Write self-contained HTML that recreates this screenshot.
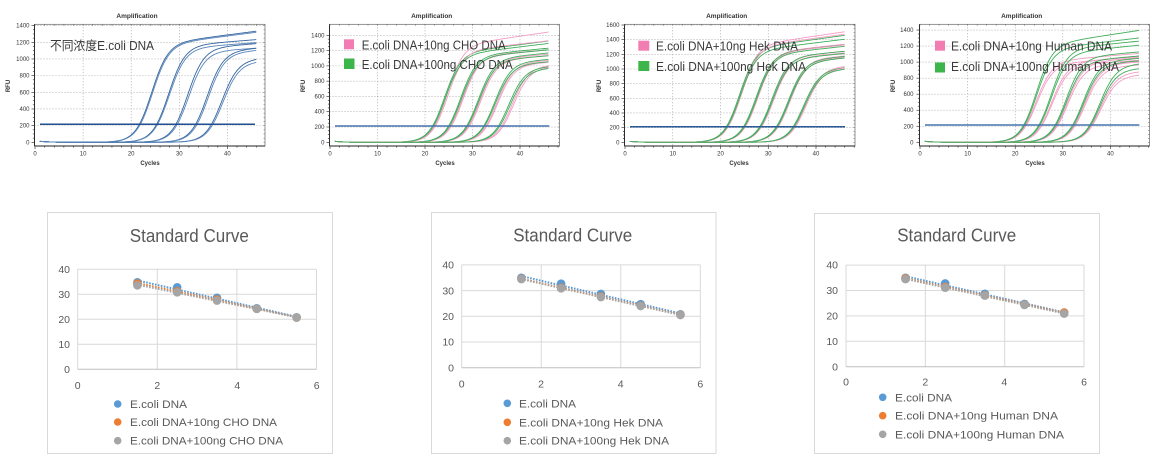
<!DOCTYPE html>
<html><head><meta charset="utf-8">
<style>
html,body{margin:0;padding:0;background:#fff;}
svg{display:block;font-family:"Liberation Sans","Noto Sans CJK SC",sans-serif;}
.t{font-size:6px;fill:#333;}
.tt{font-size:6.5px;font-weight:bold;fill:#333;}
.ax{font-size:6px;font-weight:bold;fill:#333;}
.lg{font-size:12.5px;fill:#3a3a3a;}
.st{font-size:18px;fill:#595959;}
.sk{font-size:10.5px;fill:#595959;}
.sl{font-size:11px;fill:#595959;}
</style></head><body>
<svg id="s" width="1165" height="469" viewBox="0 0 1165 469" xmlns="http://www.w3.org/2000/svg">
<rect width="1165" height="469" fill="#fff"/>
<g id="bg"></g>
<!-- Amplification plot 1 -->
<text class="tt" x="137" y="18" text-anchor="middle">Amplification</text>
<text class="ax" x="150" y="165" text-anchor="middle">Cycles</text>
<text class="ax" transform="translate(10,86) rotate(-90)" text-anchor="middle">RFU</text>
<g class="t" text-anchor="end">
<text x="29.5" y="144.3">0</text><text x="29.5" y="127.6">200</text><text x="29.5" y="111">400</text><text x="29.5" y="94.3">600</text><text x="29.5" y="77.6">800</text><text x="29.5" y="61">1000</text><text x="29.5" y="44.3">1200</text><text x="29.5" y="27.7">1400</text>
</g>
<g class="t" text-anchor="middle">
<text x="35" y="155.5">0</text><text x="83.1" y="155.5">10</text><text x="131.2" y="155.5">20</text><text x="179.3" y="155.5">30</text><text x="227.4" y="155.5">40</text>
</g>
<!-- plot 2 -->
<text class="tt" x="431.7" y="18" text-anchor="middle">Amplification</text>
<text class="ax" x="445" y="165" text-anchor="middle">Cycles</text>
<text class="ax" transform="translate(305,86) rotate(-90)" text-anchor="middle">RFU</text>
<g class="t" text-anchor="end">
<text x="324.5" y="144.3">0</text><text x="324.5" y="129">200</text><text x="324.5" y="113.7">400</text><text x="324.5" y="98.4">600</text><text x="324.5" y="83.2">800</text><text x="324.5" y="67.9">1000</text><text x="324.5" y="52.6">1200</text><text x="324.5" y="37.3">1400</text>
</g>
<g class="t" text-anchor="middle">
<text x="330" y="155.5">0</text><text x="377.5" y="155.5">10</text><text x="425" y="155.5">20</text><text x="472.5" y="155.5">30</text><text x="520" y="155.5">40</text>
</g>
<!-- plot 3 -->
<text class="tt" x="726.7" y="18" text-anchor="middle">Amplification</text>
<text class="ax" x="739" y="165" text-anchor="middle">Cycles</text>
<text class="ax" transform="translate(601,86) rotate(-90)" text-anchor="middle">RFU</text>
<g class="t" text-anchor="end">
<text x="619.5" y="144.3">0</text><text x="619.5" y="129.6">200</text><text x="619.5" y="115">400</text><text x="619.5" y="100.3">600</text><text x="619.5" y="85.7">800</text><text x="619.5" y="71">1000</text><text x="619.5" y="56.3">1200</text><text x="619.5" y="41.7">1400</text><text x="619.5" y="27">1600</text>
</g>
<g class="t" text-anchor="middle">
<text x="625" y="155.5">0</text><text x="672.8" y="155.5">10</text><text x="720.5" y="155.5">20</text><text x="768.3" y="155.5">30</text><text x="816" y="155.5">40</text>
</g>
<!-- plot 4 -->
<text class="tt" x="1021.7" y="18" text-anchor="middle">Amplification</text>
<text class="ax" x="1035" y="165" text-anchor="middle">Cycles</text>
<text class="ax" transform="translate(895,86) rotate(-90)" text-anchor="middle">RFU</text>
<g class="t" text-anchor="end">
<text x="913.5" y="144.3">0</text><text x="913.5" y="128.3">200</text><text x="913.5" y="112.2">400</text><text x="913.5" y="96.2">600</text><text x="913.5" y="80.1">800</text><text x="913.5" y="64.1">1000</text><text x="913.5" y="48.1">1200</text><text x="913.5" y="32">1400</text>
</g>
<g class="t" text-anchor="middle">
<text x="920" y="155.5">0</text><text x="967.6" y="155.5">10</text><text x="1015.2" y="155.5">20</text><text x="1062.8" y="155.5">30</text><text x="1110.4" y="155.5">40</text>
</g>

<!-- standard curve boxes -->
<rect x="47.5" y="212.5" width="285" height="241" fill="#fff" stroke="#d9d9d9"/>
<rect x="431.5" y="212.5" width="284.5" height="241" fill="#fff" stroke="#d9d9d9"/>
<rect x="814.5" y="213.5" width="285" height="240" fill="#fff" stroke="#d9d9d9"/>
<g id="fg"></g>

<!-- amp legends -->
<text class="lg" x="50" y="50" textLength="104" lengthAdjust="spacingAndGlyphs">不同浓度E.coli DNA</text>
<rect x="344" y="39.3" width="10" height="10" fill="#f27db3"/>
<rect x="344" y="58.5" width="10.5" height="10.5" fill="#3cb54a"/>
<text class="lg" x="361.7" y="49.5" textLength="144" lengthAdjust="spacingAndGlyphs">E.coli DNA+10ng CHO DNA</text>
<text class="lg" x="361.7" y="68.8" textLength="151" lengthAdjust="spacingAndGlyphs">E.coli DNA+100ng CHO DNA</text>
<rect x="638.3" y="40.7" width="11" height="10" fill="#f27db3"/>
<rect x="638.3" y="61" width="11" height="10" fill="#3cb54a"/>
<text class="lg" x="656" y="50.4" textLength="142" lengthAdjust="spacingAndGlyphs">E.coli DNA+10ng Hek DNA</text>
<text class="lg" x="656" y="71.2" textLength="150" lengthAdjust="spacingAndGlyphs">E.coli DNA+100ng Hek DNA</text>
<rect x="935" y="40.7" width="10" height="10" fill="#f27db3"/>
<rect x="935" y="62.5" width="10" height="10" fill="#3cb54a"/>
<text class="lg" x="951" y="50.4" textLength="161" lengthAdjust="spacingAndGlyphs">E.coli DNA+10ng Human DNA</text>
<text class="lg" x="951" y="70.8" textLength="168" lengthAdjust="spacingAndGlyphs">E.coli DNA+100ng Human DNA</text>

<!-- standard curve texts -->
<text class="st" x="189.3" y="242" text-anchor="middle" textLength="119" lengthAdjust="spacingAndGlyphs">Standard Curve</text>
<text class="st" x="572.7" y="241.5" text-anchor="middle" textLength="119" lengthAdjust="spacingAndGlyphs">Standard Curve</text>
<text class="st" x="956.7" y="241.5" text-anchor="middle" textLength="119" lengthAdjust="spacingAndGlyphs">Standard Curve</text>

<g class="sk" text-anchor="end">
<text x="70" y="273">40</text><text x="70" y="298">30</text><text x="70" y="323">20</text><text x="70" y="348">10</text><text x="70" y="373">0</text>
<text x="454" y="268.7">40</text><text x="454" y="294.4">30</text><text x="454" y="320.1">20</text><text x="454" y="345.7">10</text><text x="454" y="371.4">0</text>
<text x="838" y="268.7">40</text><text x="838" y="294.1">30</text><text x="838" y="319.6">20</text><text x="838" y="345">10</text><text x="838" y="370.4">0</text>
</g>
<g class="sk" text-anchor="middle">
<text x="77.7" y="389">0</text><text x="157.3" y="389">2</text><text x="237.3" y="389">4</text><text x="316.7" y="389">6</text>
<text x="461.7" y="387.5">0</text><text x="541" y="387.5">2</text><text x="620.7" y="387.5">4</text><text x="700.3" y="387.5">6</text>
<text x="846" y="385.5">0</text><text x="925.3" y="385.5">2</text><text x="1004.3" y="385.5">4</text><text x="1084" y="385.5">6</text>
</g>
<g class="sl">
<text x="130" y="408" textLength="57" lengthAdjust="spacingAndGlyphs">E.coli DNA</text>
<text x="130" y="426" textLength="147" lengthAdjust="spacingAndGlyphs">E.coli DNA+10ng CHO DNA</text>
<text x="130" y="444.7" textLength="153" lengthAdjust="spacingAndGlyphs">E.coli DNA+100ng CHO DNA</text>
<text x="519" y="407.3" textLength="57" lengthAdjust="spacingAndGlyphs">E.coli DNA</text>
<text x="519" y="426.3" textLength="144" lengthAdjust="spacingAndGlyphs">E.coli DNA+10ng Hek DNA</text>
<text x="519" y="444.7" textLength="150" lengthAdjust="spacingAndGlyphs">E.coli DNA+100ng Hek DNA</text>
<text x="895" y="401.3" textLength="57" lengthAdjust="spacingAndGlyphs">E.coli DNA</text>
<text x="895" y="419.7" textLength="163" lengthAdjust="spacingAndGlyphs">E.coli DNA+10ng Human DNA</text>
<text x="895" y="438.3" textLength="169" lengthAdjust="spacingAndGlyphs">E.coli DNA+100ng Human DNA</text>
</g>
</svg>
<script>
(function(){
var NS="http://www.w3.org/2000/svg";
var bg=document.getElementById('bg'), fg=document.getElementById('fg');
function el(tag,a,p){var e=document.createElementNS(NS,tag);for(var k in a)e.setAttribute(k,a[k]);p.appendChild(e);return e;}

function amp(c){
  var g=el('g',{},bg);
  var yv=function(v){return c.y0-v*c.ppr;}, xv=function(cy){return c.x0+cy*c.ppc;};
  for(var v=200;v<=c.ymax;v+=200){var y=yv(v);el('line',{x1:c.L,x2:c.R,y1:y,y2:y,stroke:'#8a8a8a','stroke-width':0.6,'stroke-dasharray':'1 2'},g);}
  for(var k=10;k<=40;k+=10){var x=xv(k);el('line',{x1:x,x2:x,y1:c.T,y2:c.B,stroke:'#8a8a8a','stroke-width':0.6,'stroke-dasharray':'1 2'},g);}
  el('rect',{x:c.L,y:c.T,width:c.R-c.L,height:c.B-c.T,fill:'none',stroke:'#666','stroke-width':0.7},g);
  el('line',{x1:c.L,x2:c.L,y1:c.T,y2:c.B,stroke:'#222','stroke-width':0.9},g);
  el('line',{x1:c.L,x2:c.R,y1:c.B,y2:c.B,stroke:'#222','stroke-width':0.9},g);
  for(var v2=0;v2<=c.ymax;v2+=50){var y2=yv(v2);var len=(v2%200==0)?3:1.6;
    el('line',{x1:c.L-len,x2:c.L,y1:y2,y2:y2,stroke:'#222','stroke-width':0.6},g);
    el('line',{x1:c.R,x2:c.R-1.5,y1:y2,y2:y2,stroke:'#666','stroke-width':0.5},g);}
  for(var k2=0;xv(k2)<=c.R;k2+=2){var x2=xv(k2);var l2=(k2%10==0)?3:1.6;
    el('line',{x1:x2,x2:x2,y1:c.B,y2:c.B+l2,stroke:'#222','stroke-width':0.6},g);
    el('line',{x1:x2,x2:x2,y1:c.T,y2:c.T+1.5,stroke:'#666','stroke-width':0.5},g);}
  var T=c.thr,kk=1.7;
  c.curves.forEach(function(cv){
    var ct=cv[0],P=cv[1],s=cv[2],col=cv[3];
    var m=ct+kk*Math.log(P/T-1);
    var d='';
    for(var cy=1;cy<=46.001;cy+=0.25){
      var f=12*Math.exp(-(cy-1)/2)+(P+s*(cy-m))/(1+Math.exp(-(cy-m)/kk));
      d+=(d?'L':'M')+xv(cy).toFixed(2)+','+yv(f).toFixed(2);
    }
    el('path',{d:d,fill:'none',stroke:col,'stroke-width':0.9},g);
  });
  el('line',{x1:c.thX1,x2:c.thX2,y1:c.thY,y2:c.thY,stroke:c.thC,'stroke-width':1.5},g);
}
var B1='#3565a0',B2='#5a86ba',PK='#f49dc6',GR='#3fae5a';
amp({x0:35,ppc:4.81,y0:142.3,ppr:0.08333,L:34.5,R:265,T:24.3,B:146,ymax:1400,thr:220,thY:124.3,thX1:40,thX2:255,thC:'#1f4f8f',
 curves:[[21.7,1170,7.5,B1],[21.9,1160,7.4,B2],[25.3,1150,4.5,B1],[25.5,1120,4.2,B2],[29.3,1120,4.5,B1],[29.6,1080,3.5,B2],[33.4,1080,5,B1],[33.7,1060,4.5,B2],[36.7,980,4,B1],[37,950,3.5,B2]]});
amp({x0:330,ppc:4.75,y0:142.3,ppr:0.07643,L:329.5,R:559.5,T:24.3,B:146,ymax:1400,thr:220,thY:126,thX1:335,thX2:549.3,thC:'#4673ad',
 curves:[[22.0,1250,9,PK],[21.6,1150,8,GR],[22.2,1180,7,PK],[21.8,1130,7.5,GR],[25.4,1100,6,PK],[25.0,1120,6,GR],[25.6,1120,5,PK],[25.2,1100,6,GR],[29.2,1080,5,PK],[28.8,1080,6,GR],[29.4,1060,5,PK],[29.0,1060,5,GR],[32.9,1020,5,PK],[32.4,1030,5,GR],[33.1,1000,4.5,PK],[32.6,1000,5,GR],[36.2,980,4,PK],[35.5,960,4,GR],[36.5,960,4,PK],[35.8,940,4,GR]]});
amp({x0:625,ppc:4.775,y0:142.3,ppr:0.07331,L:624.5,R:855,T:24.3,B:146,ymax:1600,thr:215,thY:126.7,thX1:630,thX2:845,thC:'#2a5a98',
 curves:[[21.4,1300,9.5,PK],[21.2,1260,9,GR],[21.6,1280,9,PK],[21.4,1230,8,GR],[25.0,1210,7,PK],[24.8,1200,7,GR],[25.2,1200,7,PK],[25.0,1180,7,GR],[28.4,1150,6,PK],[28.2,1150,6,GR],[28.6,1130,6,PK],[28.4,1120,6,GR],[31.9,1120,5,PK],[31.7,1100,6,GR],[32.1,1100,5,PK],[31.9,1080,6,GR],[35.5,1000,5,PK],[35.2,980,5,GR],[35.7,980,5,PK],[35.4,960,5,GR]]});
amp({x0:920,ppc:4.76,y0:142.3,ppr:0.0802,L:919.5,R:1149.5,T:24.3,B:146,ymax:1400,thr:220,thY:125,thX1:925,thX2:1139.3,thC:'#4673ad',
 curves:[[22.2,1000,5,PK],[21.8,1200,9,GR],[22.4,960,5,PK],[22.0,1150,7,GR],[25.5,980,5,PK],[25.0,1150,6,GR],[25.7,950,4,PK],[25.2,1100,6,GR],[28.8,980,5,PK],[28.4,1050,5,GR],[29.0,940,4,PK],[28.6,1000,5,GR],[32.5,950,5,PK],[32.1,1000,4,GR],[32.7,920,4,PK],[32.3,970,4,GR],[36.1,860,3,PK],[35.7,950,4,GR],[36.3,820,3,PK],[35.9,900,3,GR]]});

function std(c){
  var g=el('g',{},fg);
  var X=function(v){return c.x0+v*c.px;}, Y=function(v){return c.y0-v*c.py;};
  for(var v=10;v<=40;v+=10){el('line',{x1:X(0),x2:X(6),y1:Y(v),y2:Y(v),stroke:'#d9d9d9','stroke-width':1},g);}
  for(var u=2;u<=6;u+=2){el('line',{x1:X(u),x2:X(u),y1:Y(0),y2:Y(40),stroke:'#d9d9d9','stroke-width':1},g);}
  el('line',{x1:X(0),x2:X(0),y1:Y(0),y2:Y(40),stroke:'#d9d9d9','stroke-width':1},g);
  el('line',{x1:X(0),x2:X(6),y1:Y(0),y2:Y(0),stroke:'#bfbfbf','stroke-width':1},g);
  var cols=['#5b9bd5','#ed7d31','#a5a5a5'];
  var xs=[1.5,2.5,3.5,4.5,5.5];
  c.data.forEach(function(ys,i){
    var n=5,sx=0,sy=0,sxx=0,sxy=0;
    for(var j=0;j<n;j++){sx+=xs[j];sy+=ys[j];sxx+=xs[j]*xs[j];sxy+=xs[j]*ys[j];}
    var b=(n*sxy-sx*sy)/(n*sxx-sx*sx),a=(sy-b*sx)/n;
    el('line',{x1:X(1.5),x2:X(5.5),y1:Y(a+b*1.5),y2:Y(a+b*5.5),stroke:cols[i],'stroke-width':2,'stroke-dasharray':'1.6 1.4'},g);
  });
  c.data.forEach(function(ys,i){
    ys.forEach(function(yv,j){el('circle',{cx:X(xs[j]),cy:Y(yv),r:4.3,fill:cols[i]},g);});
  });
  c.ly.forEach(function(yy,i){el('circle',{cx:c.lx,cy:yy,r:3.8,fill:cols[i]},g);});
}
std({x0:77.7,px:39.8,y0:369.3,py:2.5,lx:117.7,ly:[404,422,440.7],
 data:[[34.8,32.8,28.6,24.4,20.8],[34.3,31.2,27.9,24.2,20.7],[33.6,30.8,27.5,24.2,20.7]]});
std({x0:461.7,px:39.77,y0:367.7,py:2.57,lx:507.3,ly:[403.3,422.3,440.7],
 data:[[35.0,32.7,28.7,24.7,20.8],[34.6,31.1,27.7,24.1,20.6],[34.5,30.9,27.5,24.0,20.5]]});
std({x0:846,px:39.67,y0:366.7,py:2.54,lx:882.7,ly:[397.3,415.7,434.3],
 data:[[35.0,32.8,28.7,24.7,21.3],[34.8,31.4,28.1,24.4,21.3],[34.5,31.1,28.0,24.3,20.9]]});
})();
</script>
</body></html>
